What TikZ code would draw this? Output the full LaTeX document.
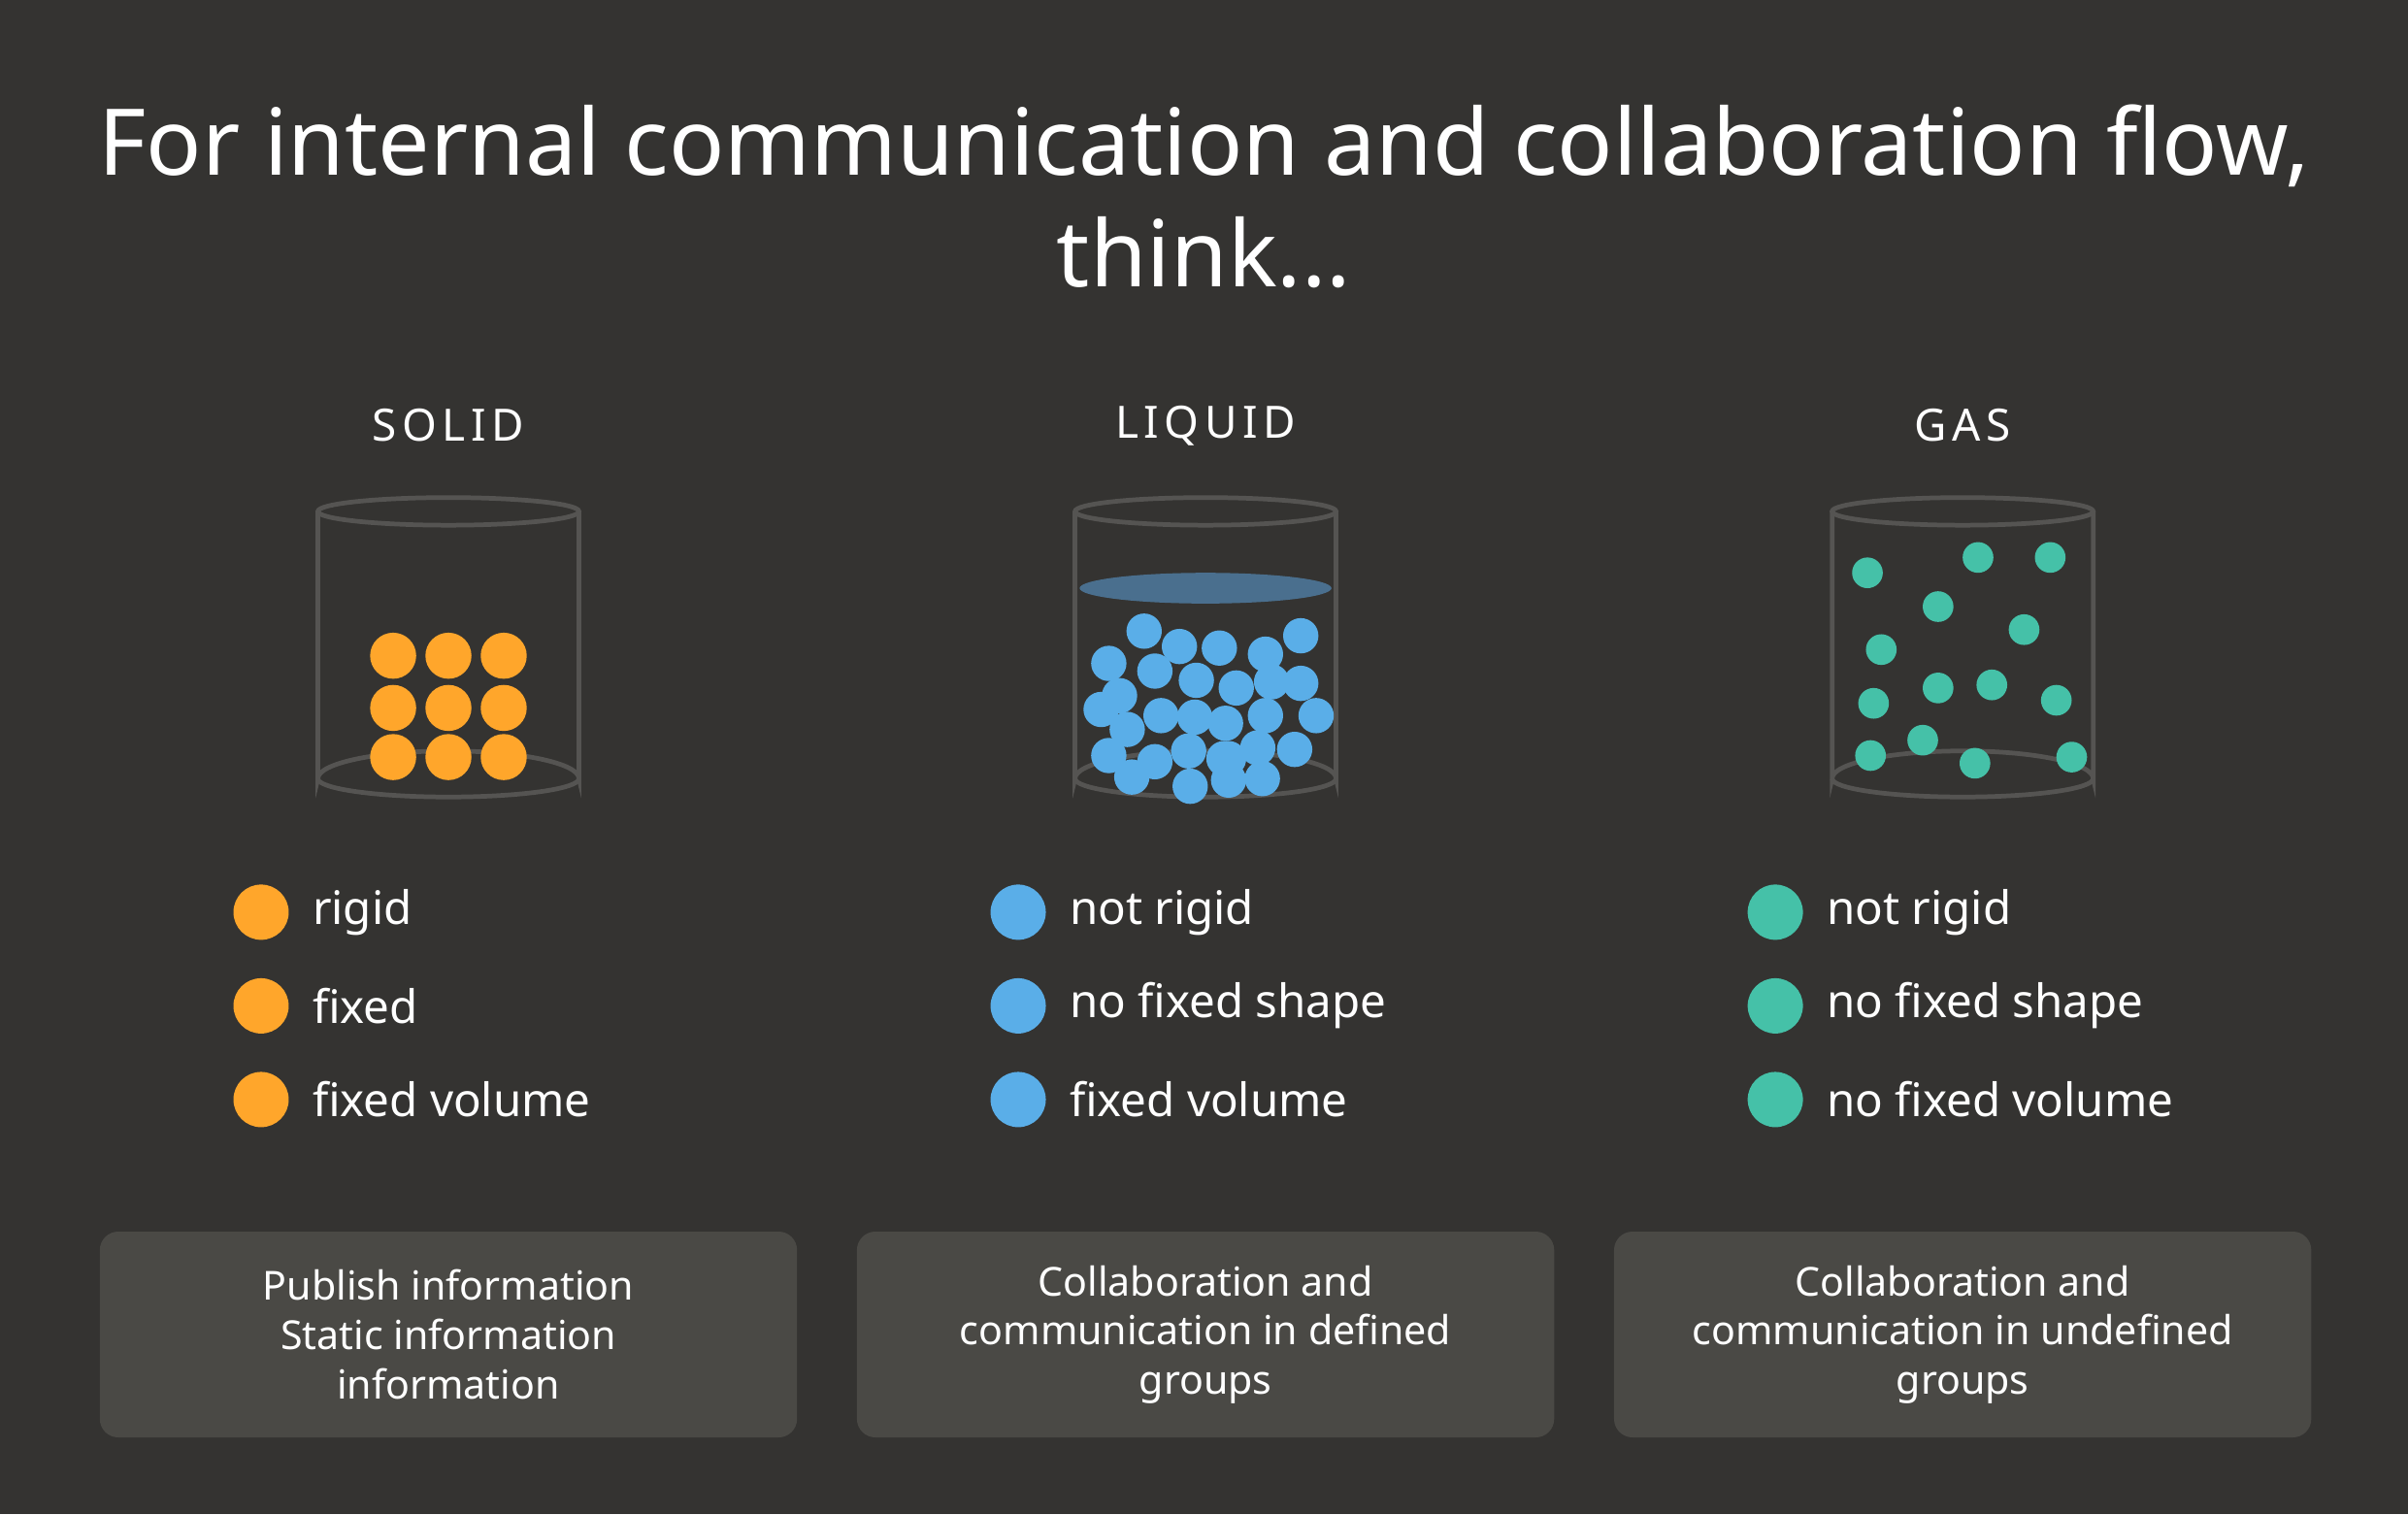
\documentclass[tikz,border=0pt]{standalone}
\usepackage{fontspec}
\setmainfont{Noto Sans}
\newfontfamily\headfont[LetterSpace=12]{Noto Sans}
\definecolor{bg}{HTML}{343331}
\definecolor{boxc}{HTML}{4A4945}
\definecolor{glass}{HTML}{555452}
\definecolor{solidc}{HTML}{FFA62B}
\definecolor{liqc}{HTML}{5AAEE8}
\definecolor{gasc}{HTML}{45C1A8}
\definecolor{surf}{HTML}{4A6F8E}
\begin{document}
\begin{tikzpicture}[x=1pt,y=-1pt,
  glassline/.style={draw=glass,line width=3pt},
  infobox/.style={fill=boxc,rounded corners=12pt,minimum width=454pt,minimum height=134pt,text=white,align=center,font=\fontsize{26}{32}\selectfont},
  head/.style={text=white,font=\headfont\bfseries\fontsize{29}{34}\selectfont},
  bl/.style={text=white,anchor=west,font=\fontsize{30}{36}\selectfont}]
\fill[bg] (0,0) rectangle (1568,986);
\useasboundingbox (0,0) rectangle (1568,986);
\node[text=white,align=center,font=\fontsize{60}{73}\selectfont] (title) at (784,128) {For internal communication and collaboration flow,\\think...};
% beakers
\foreach \cx/\nm/\hd in {292/s/SOLID,785/l/LIQUID,1278/g/GAS}{
  \node[head] (h\nm) at (\cx,277) {\hd};
  \draw[glassline] (\cx,333) ellipse (85 and 9);
  \draw[glassline] (\cx-85,333) -- (\cx-85,507) arc (180:360:85 and 18) -- (\cx+85,333);
  \draw[glassline] (\cx-85,507) arc (180:0:85 and 12);
}
\fill[surf] (785,383) ellipse (82 and 10);
\foreach \x/\y in {256/427,292/427,328/427,256/461,292/461,328/461,256/493,292/493,328/493}
  \fill[solidc] (\x,\y) circle (15);
\foreach \x/\y in {745/411,768/421,794/422,824/426,847/414,722/432,752/437,779/443,805/448,828/444,847/445,729/453,717/462,734/475,756/466,778/467,798/471,824/466,857/466,722/492,737/506,752/496,774/489,797/494,819/487,843/488,775/512,800/508,822/507,800/494}
  \fill[liqc] (\x,\y) circle (11.5);
\foreach \x/\y in {1216/373,1288/363,1335/363,1262/395,1318/410,1225/423,1262/448,1297/446,1220/458,1339/456,1218/492,1252/482,1286/497,1349/493}
  \fill[gasc] (\x,\y) circle (10);
% bullets
\foreach \bx/\c/\nm in {170/solidc/s,663/liqc/l,1156/gasc/g}
  \foreach \by in {594,655,716}
    \fill[\c] (\bx,\by) circle (18);
\node[bl] (s1) at (200,594) {rigid};
\node[bl] (s2) at (200,655) {fixed};
\node[bl] (s3) at (200,716) {fixed volume};
\node[bl] (l1) at (693,594) {not rigid};
\node[bl] (l2) at (693,655) {no fixed shape};
\node[bl] (l3) at (693,716) {fixed volume};
\node[bl] (g1) at (1186,594) {not rigid};
\node[bl] (g2) at (1186,655) {no fixed shape};
\node[bl] (g3) at (1186,716) {no fixed volume};
% boxes
\node[infobox] (b1) at (292,869) {Publish information\\Static information\\information};
\node[infobox] (b2) at (785,869) {Collaboration and\\communication in defined\\groups};
\node[infobox] (b3) at (1278,869) {Collaboration and\\communication in undefined\\groups};
\end{tikzpicture}
\end{document}
